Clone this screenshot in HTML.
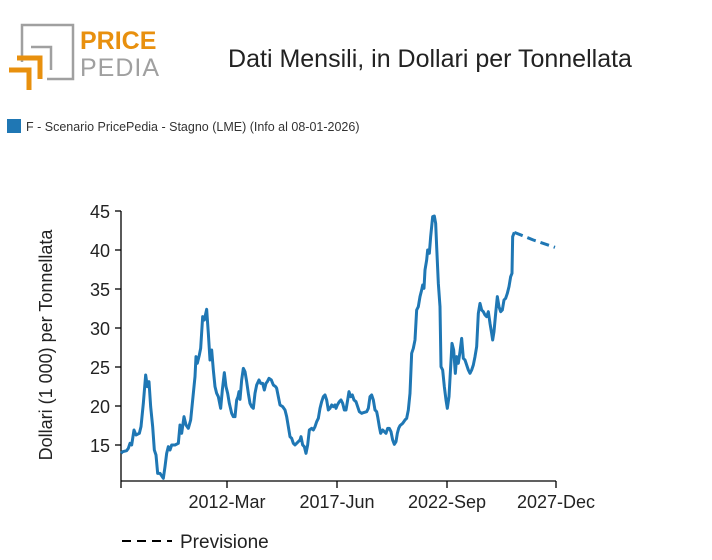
<!DOCTYPE html>
<html><head><meta charset="utf-8"><style>
body{margin:0;background:#fff;width:712px;height:555px;overflow:hidden;font-family:"Liberation Sans",sans-serif}
</style></head><body>
<svg width="712" height="555" viewBox="0 0 712 555" xmlns="http://www.w3.org/2000/svg" font-family="Liberation Sans, sans-serif">
<!-- logo -->
<g fill="none">
<polyline points="22,62 22,25 73,25 73,79 47,79" stroke="#a0a0a0" stroke-width="2.5"/>
<polyline points="31,47 51,47 51,70" stroke="#a0a0a0" stroke-width="2.5"/>
<polyline points="17,58 40,58 40,79" stroke="#e8900e" stroke-width="5"/>
<polyline points="9,70 29,70 29,90" stroke="#e8900e" stroke-width="5"/>
</g>
<text x="80" y="49" font-size="25" font-weight="bold" fill="#e8900e">PRICE</text>
<text x="80" y="76" font-size="25" fill="#a0a0a0" letter-spacing="1">PEDIA</text>
<text x="430" y="67" font-size="25" text-anchor="middle" fill="#222">Dati Mensili, in Dollari per Tonnellata</text>
<rect x="7" y="119" width="14" height="14" fill="#1f77b4"/>
<text x="26" y="131" font-size="12.5" fill="#333">F - Scenario PricePedia - Stagno (LME) (Info al 08-01-2026)</text>
<!-- axes -->
<g stroke="#000" stroke-width="1.3">
<line x1="121" y1="211" x2="121" y2="481"/>
<line x1="121" y1="481" x2="556" y2="481"/>
<line x1="115" y1="211" x2="121" y2="211"/><line x1="115" y1="250" x2="121" y2="250"/>
<line x1="115" y1="289" x2="121" y2="289"/><line x1="115" y1="328" x2="121" y2="328"/>
<line x1="115" y1="367" x2="121" y2="367"/><line x1="115" y1="406" x2="121" y2="406"/>
<line x1="115" y1="445" x2="121" y2="445"/>
<line x1="121" y1="481" x2="121" y2="488"/><line x1="227" y1="481" x2="227" y2="488"/>
<line x1="337" y1="481" x2="337" y2="488"/><line x1="447" y1="481" x2="447" y2="488"/>
<line x1="556" y1="481" x2="556" y2="488"/>
</g>
<g font-size="18" fill="#222" text-anchor="end">
<text x="110" y="218">45</text><text x="110" y="257">40</text><text x="110" y="296">35</text>
<text x="110" y="335">30</text><text x="110" y="374">25</text><text x="110" y="413">20</text>
<text x="110" y="452">15</text>
</g>
<g font-size="18" fill="#222" text-anchor="middle">
<text x="227" y="508">2012-Mar</text><text x="337" y="508">2017-Jun</text>
<text x="447" y="508">2022-Sep</text><text x="556" y="508">2027-Dec</text>
</g>
<text transform="translate(52,345) rotate(-90)" font-size="18" fill="#222" text-anchor="middle">Dollari (1 000) per Tonnellata</text>
<g transform="translate(110 200) scale(0.33333)" fill="none" stroke="#1f77b4" stroke-width="9" stroke-linejoin="round">
<polyline points="33,760 38,755 50,752 55,745 60,730 65,735 72,690 78,705 88,700 93,680 100,610 107,525 112,560 117,545 122,620 128,680 133,750 138,765 143,820 150,820 160,835 165,800 170,760 175,740 180,750 185,735 195,735 205,730 210,675 215,700 222,650 228,675 235,685 242,660 250,580 255,530 258,470 262,490 268,465 272,445 278,350 283,360 290,328 295,400 300,480 305,450 310,510 315,560 320,580 325,590 332,625 337,570 343,518 348,560 353,580 358,610 365,640 370,650 375,650 380,600 384,590 387,575 390,598 395,540 400,505 405,515 410,545 415,580 420,610 425,620 430,625 435,580 440,555 447,540 452,550 458,550 463,570 468,550 472,545 477,535 484,540 490,555 497,560 500,565 505,590 510,615 518,620 525,630 530,650 535,680 540,710 545,715 550,730 555,735 560,730 570,720 573,710 578,735 583,740 588,760 593,735 598,690 605,685 610,690 615,680 620,665 625,655 630,625 635,605 640,590 645,585 650,600 655,630 660,625 665,615 670,620 675,615 678,625 682,615 688,605 693,600 698,610 703,630 708,630 713,600 717,575 722,590 727,585 732,600 738,605 743,620 748,635 755,640 760,638 770,635 775,625 780,590 785,585 790,600 795,630 800,635 803,650 808,680 812,700 818,690 823,695 828,700 833,685 838,685 843,695 848,720 853,733 858,725 862,700 866,685 870,677 878,670 885,660 890,655 895,630 900,580 905,460 910,445 915,420 920,330 925,320 930,290 935,270 938,255 942,265 945,210 950,180 953,150 958,160 962,110 968,50 973,48 977,70 980,140 985,250 990,320 993,500 998,510 1003,560 1008,600 1012,625 1017,590 1022,500 1026,430 1031,450 1036,520 1040,470 1045,490 1050,455 1055,415 1060,475 1065,480 1070,495 1075,510 1080,520 1085,510 1090,495 1095,470 1100,440 1105,340 1110,310 1115,330 1120,335 1125,345 1130,350 1135,335 1140,370 1145,400 1148,420 1152,395 1157,340 1162,290 1167,320 1172,335 1177,330 1182,300 1187,295 1192,280 1197,260 1202,230 1206,220 1208,110 1213,97"/>
<polyline points="1213,97 1270,120 1335,142" stroke-dasharray="27,15"/>
</g>
<line x1="122" y1="541" x2="172" y2="541" stroke="#000" stroke-width="2" stroke-dasharray="9,6"/>
<text x="180" y="548" font-size="19" fill="#222">Previsione</text>
</svg>
</body></html>
